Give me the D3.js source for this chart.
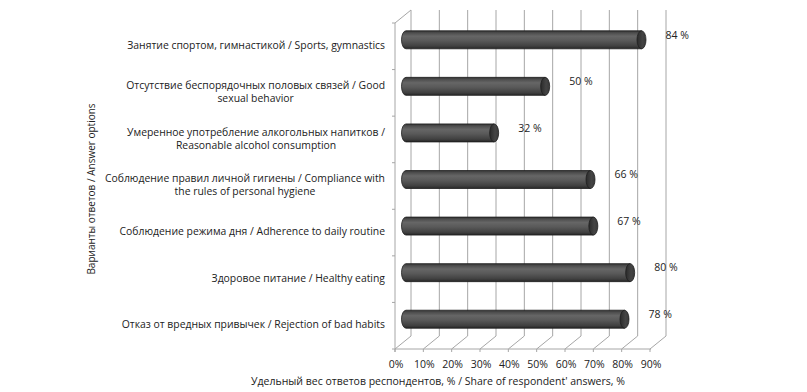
<!DOCTYPE html>
<html>
<head>
<meta charset="utf-8">
<script src="https://cdn.jsdelivr.net/npm/d3@7"></script>
<style>
  body { margin: 0; background: #fff; }
  text { font-family: "Open Sans", sans-serif; fill: #222; }
</style>
</head>
<body>
<script>
let width = 807,
    height = 392;

// data
let categories = [
    ["Занятие спортом, гимнастикой / Sports, gymnastics"],
    ["Отсутствие беспорядочных половых связей / Good", "sexual behavior"],
    ["Умеренное употребление алкогольных напитков /", "Reasonable alcohol consumption"],
    ["Соблюдение правил личной гигиены / Compliance with", "the rules of personal hygiene"],
    ["Соблюдение режима дня / Adherence to daily routine"],
    ["Здоровое питание / Healthy eating"],
    ["Отказ от вредных привычек / Rejection of bad habits"]
];
let values = [84, 50, 32, 66, 67, 80, 78];
let ticks = [0, 10, 20, 30, 40, 50, 60, 70, 80, 90];
let xTitle = "Удельный вес ответов респондентов, % / Share of respondent' answers, %";
let yTitle = "Варианты ответов / Answer options";

// 3d depth offset (back wall relative to front)
let dx = 15, dy = -13;

let svg = d3.select("body").append("svg")
    .attr("width", width).attr("height", height);
svg.append("rect").attr("width", width).attr("height", height).attr("fill", "#fff");

let xFront = d3.scaleLinear().domain([0, 90]).range([396, 651]);
let xBack = v => xFront(v) + dx;
let xMid = v => xFront(v) + dx / 2;

let y = d3.scaleBand().domain(d3.range(categories.length)).range([23, 349]);
let yMid = i => y(i) + y.bandwidth() / 2 + dy / 2;

let plotTop = y.range()[0], plotBottom = y.range()[1];
let grid = svg.append("g").attr("stroke", "#a6a6a6").attr("fill", "none");

// back wall gridlines
grid.selectAll(".vg").data(ticks).enter().append("line")
    .attr("x1", d => xBack(d)).attr("x2", d => xBack(d))
    .attr("y1", plotTop + dy).attr("y2", plotBottom + dy);

// floor diagonals
grid.selectAll(".fd").data(ticks).enter().append("line")
    .attr("x1", d => xBack(d)).attr("y1", plotBottom + dy)
    .attr("x2", d => xFront(d) - 1).attr("y2", plotBottom);

// floor front edge + ticks
grid.append("line").attr("x1", xFront(0) - 1).attr("x2", xFront(90)).attr("y1", plotBottom).attr("y2", plotBottom);
grid.selectAll(".ft").data(ticks).enter().append("line")
    .attr("x1", d => xFront(d) - 1).attr("x2", d => xFront(d) - 1)
    .attr("y1", plotBottom).attr("y2", plotBottom + 3);

// left wall front edge, top diagonal, ticks
grid.append("line").attr("x1", xFront(0) - 1).attr("x2", xFront(0) - 1).attr("y1", plotTop).attr("y2", plotBottom + 3);
grid.append("line").attr("x1", xFront(0) - 1).attr("y1", plotTop).attr("x2", xBack(0)).attr("y2", plotTop + dy);
grid.selectAll(".lt").data(d3.range(categories.length + 1)).enter().append("line")
    .attr("x1", xFront(0) - 4).attr("x2", xFront(0) - 1)
    .attr("y1", d => plotTop + d * y.step()).attr("y2", d => plotTop + d * y.step());

// cylinder gradient
let defs = svg.append("defs");
let grad = defs.append("linearGradient").attr("id", "cyl").attr("x1", 0).attr("y1", 0).attr("x2", 0).attr("y2", 1);
[[0, "#333"], [0.12, "#4e4e4e"], [0.3, "#666"], [0.55, "#595959"], [0.85, "#404040"], [1, "#262626"]]
    .forEach(s => grad.append("stop").attr("offset", s[0]).attr("stop-color", s[1]));
let capGrad = defs.append("linearGradient").attr("id", "cap").attr("x1", 0).attr("y1", 0).attr("x2", 1).attr("y2", 0);
[[0, "#2a2a2a"], [0.6, "#444"], [1, "#3a3a3a"]]
    .forEach(s => capGrad.append("stop").attr("offset", s[0]).attr("stop-color", s[1]));

let bh = 18, rx = 4.5;
let bars = svg.append("g").selectAll("g").data(values).enter().append("g");
bars.append("path")
    .attr("d", (d, i) => {
        let x0 = xMid(0) - 2, x1 = xMid(d), yc = yMid(i), r = bh / 2;
        return `M${x1},${yc - r} L${x0 + rx},${yc - r} A${rx},${r} 0 0 0 ${x0 + rx},${yc + r} L${x1},${yc + r} Z`;
    })
    .attr("fill", "url(#cyl)").attr("stroke", "#1e1e1e").attr("stroke-width", 0.8);
bars.append("ellipse")
    .attr("cx", d => xMid(d)).attr("cy", (d, i) => yMid(i))
    .attr("rx", rx).attr("ry", bh / 2)
    .attr("fill", "url(#cap)").attr("stroke", "#1e1e1e").attr("stroke-width", 0.8);

// value labels
svg.append("g").selectAll("text").data(values).enter().append("text")
    .attr("x", d => xMid(d) + 24).attr("y", (d, i) => yMid(i) - 4)
    .attr("dominant-baseline", "middle")
    .style("font-size", "10.5px")
    .text(d => d + " %");

// tick labels
svg.append("g").selectAll("text").data(ticks).enter().append("text")
    .attr("x", d => xFront(d)).attr("y", plotBottom + 16)
    .attr("text-anchor", "middle").attr("dominant-baseline", "middle")
    .style("font-size", "10.5px")
    .text(d => d + "%");

// category labels: lines centred within a right-aligned block
let labelRight = 385;
let catG = svg.append("g");
categories.forEach((lines, i) => {
    let g = catG.append("g");
    let lh = 13;
    let y0 = y(i) + y.bandwidth() / 2 - (lines.length - 1) * lh / 2;
    let texts = lines.map((l, k) => g.append("text")
        .attr("y", y0 + k * lh).attr("dominant-baseline", "middle")
        .attr("text-anchor", "middle")
        .style("font-size", "10.4px").text(l));
    let w = d3.max(texts, t => t.node().getComputedTextLength());
    texts.forEach(t => t.attr("x", labelRight - w / 2));
});

// axis titles
svg.append("text")
    .attr("x", 438).attr("y", 382)
    .attr("text-anchor", "middle").attr("dominant-baseline", "middle")
    .style("font-size", "10.5px")
    .text(xTitle);
svg.append("text")
    .attr("transform", "translate(92,189) rotate(-90)")
    .attr("text-anchor", "middle").attr("dominant-baseline", "middle")
    .style("font-size", "10px")
    .text(yTitle);
</script>
</body>
</html>
